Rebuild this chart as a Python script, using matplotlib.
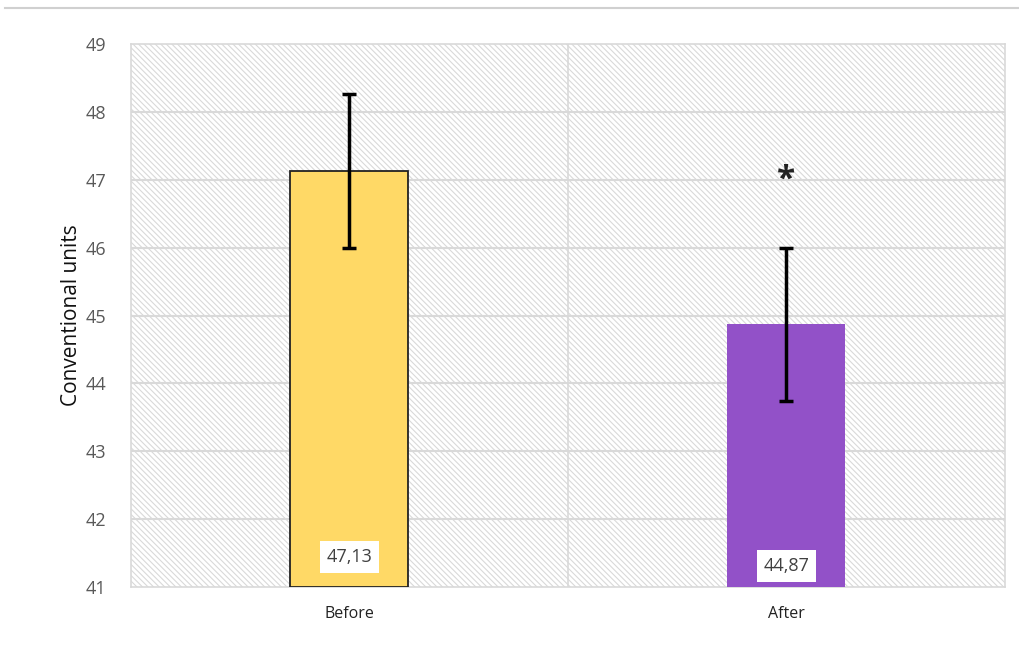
import matplotlib.pyplot as plt
from matplotlib.patches import Rectangle
from matplotlib.lines import Line2D

groups = ["Before", "After"]
means = [47.13, 44.87]
errors = [1.13, 1.13]
value_labels = ["47,13", "44,87"]
bar_colors = ["#FFD966", "#9251C8"]
edge_colors = ["#222222", "none"]
star_y = 47.0

plt.rcParams['font.family'] = ['Open Sans', 'DejaVu Sans']
plt.rcParams['hatch.linewidth'] = 0.8

fig = plt.figure(figsize=(10.2, 6.48), dpi=100)
ax = fig.add_axes([0.1284, 0.0941, 0.8569, 0.8379])

x = range(len(groups))
ax.set_xlim(-0.5, len(groups) - 0.5)
ax.set_ylim(41, 49)

# hatched background
bg = Rectangle((0, 0), 1, 1, transform=ax.transAxes, facecolor="white",
               edgecolor="#d9d9d9", hatch="\\" * 6, linewidth=0, zorder=0)
ax.add_patch(bg)

for yv in range(42, 49):
    ax.axhline(yv, color="#d9d9d9", linewidth=1.5, zorder=1)
ax.axvline(0.5, color="#d9d9d9", linewidth=1.2, zorder=1)

ax.bar(x, [m - 41 for m in means], bottom=41, width=0.27, color=bar_colors,
       edgecolor=edge_colors, linewidth=1.3, zorder=3)
ax.errorbar(x, means, yerr=errors, fmt="none", ecolor="black", elinewidth=2.5,
            capsize=5, capthick=2.5, zorder=4)

for i, lab in enumerate(value_labels):
    ax.text(i, 41.18 + (0.13 if i == 0 else 0), lab, ha="center", va="bottom",
            fontsize=13, color="#404040", zorder=5,
            bbox=dict(facecolor="white", edgecolor="none", pad=5))

ax.text(1, star_y, "*", ha="center", va="center", fontsize=24,
        fontweight="bold", color="#222222", zorder=5)

ax.set_xticks(list(x))
ax.set_xticklabels(groups, fontsize=11.5, color="#222222")
ax.set_yticks(range(41, 50))
ax.tick_params(axis="y", labelsize=13, labelcolor="#595959", length=0, pad=18)
ax.tick_params(axis="x", length=0, pad=14)
ax.set_ylabel("Conventional units", fontsize=15, color="#111111", labelpad=2)

for s in ax.spines.values():
    s.set_color("#d9d9d9")
    s.set_linewidth(1.2)

fig.add_artist(Line2D([0.005, 1.0], [0.988, 0.988], color="#d0d0d0",
                      linewidth=1.5, transform=fig.transFigure))

fig.savefig("out.png", dpi=100)
